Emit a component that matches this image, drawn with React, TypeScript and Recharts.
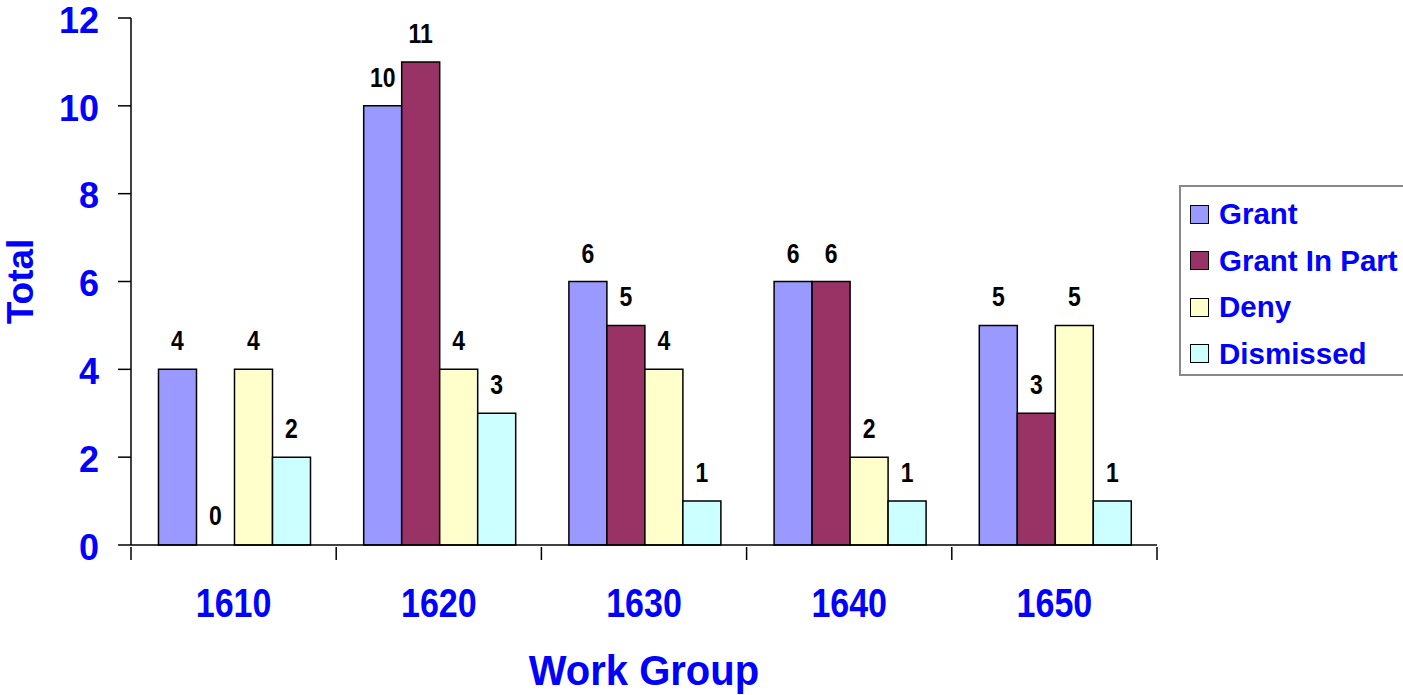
import React from 'react'
import { BarChart, Bar, XAxis, YAxis, LabelList, Rectangle } from 'recharts'

const groups = ['1610', '1620', '1630', '1640', '1650']
const grant = [4, 10, 6, 6, 5]
const grantInPart = [0, 11, 5, 6, 3]
const deny = [4, 4, 4, 2, 5]
const dismissed = [2, 3, 1, 1, 1]
const yTicks = [0, 2, 4, 6, 8, 10, 12]

const series = [
  { key: 'grant', name: 'Grant', color: '#9999FF' },
  { key: 'grantInPart', name: 'Grant In Part', color: '#993366' },
  { key: 'deny', name: 'Deny', color: '#FFFFCC' },
  { key: 'dismissed', name: 'Dismissed', color: '#CCFFFF' },
]

const data = groups.map((g, i) => ({
  group: g,
  grant: grant[i],
  grantInPart: grantInPart[i],
  deny: deny[i],
  dismissed: dismissed[i],
}))

const FONT = '"Liberation Sans", Arial, sans-serif'
const BLUE = '#0000FF'

// the original text is a bit taller than normal, so stretch it vertically
const Stretched = ({ x, y, sy = 1.17, rotate = 0, children, ...rest }: any) => (
  <text x={0} y={0} transform={`translate(${x}, ${y}) rotate(${rotate}) scale(1, ${sy})`}
    fontFamily={FONT} fontWeight="bold" {...rest}>
    {children}
  </text>
)

const GroupTick = (props: any) => {
  const { x, y, payload, width, visibleTicksCount, index } = props
  const bw = width / visibleTicksCount
  return (
    <g>
      <line x1={x - bw / 2} y1={y} x2={x - bw / 2} y2={y + 13} stroke="#000" strokeWidth={1.5} />
      {index === visibleTicksCount - 1 && (
        <line x1={x + bw / 2} y1={y} x2={x + bw / 2} y2={y + 13} stroke="#000" strokeWidth={1.5} />
      )}
      <Stretched x={x} y={y + 57} textAnchor="middle" dominantBaseline="central" fill={BLUE} fontSize={34}>
        {payload.value}
      </Stretched>
    </g>
  )
}

const ValueTick = (props: any) => {
  const { x, y, payload } = props
  return (
    <Stretched x={x} y={y + 2} textAnchor="end" dominantBaseline="central" fill={BLUE} fontSize={36} sy={1.05}>
      {payload.value}
    </Stretched>
  )
}

const YTitle = (props: any) => {
  const { viewBox } = props
  const cy = viewBox.y + viewBox.height / 2
  return (
    <Stretched x={20} y={cy} rotate={-90} sy={1} textAnchor="middle" dominantBaseline="central" fill={BLUE} fontSize={37}>
      Total
    </Stretched>
  )
}

const XTitle = (props: any) => {
  const { viewBox } = props
  return (
    <Stretched x={viewBox.x + viewBox.width / 2} y={viewBox.y + viewBox.height - 10} sy={1.05} textAnchor="middle" fill={BLUE} fontSize={40}>
      Work Group
    </Stretched>
  )
}

const BarValue = (props: any) => {
  const { x, y, width, value } = props
  return (
    <Stretched x={x + width / 2} y={y - 19} sy={1.2} textAnchor="middle" fill="#000" fontSize={23}>
      {value}
    </Stretched>
  )
}

// a zero value still gets its label, but no visible bar
const BarShape = (props: any) => {
  if (props.height < 1.5) return <g />
  return <Rectangle {...props} />
}

export default function App() {
  return (
    <div style={{ position: 'absolute', left: 0, top: 0, width: 1403, height: 695, overflow: 'hidden', background: '#fff', fontFamily: FONT }}>
      <BarChart width={1403} height={695} data={data}
        margin={{ top: 18, right: 246, left: 0, bottom: 0 }}
        barCategoryGap="13.4%" barGap={0}>
        <XAxis xAxisId="top" orientation="top" dataKey="group" tick={false} tickLine={false}
          axisLine={{ stroke: '#999', strokeWidth: 2 }} height={0} />
        <YAxis yAxisId="right" orientation="right" domain={[0, 12]} tick={false} tickLine={false}
          axisLine={{ stroke: '#999', strokeWidth: 2 }} width={0} />
        <XAxis dataKey="group" height={150} interval={0} tickLine={false} tickSize={0}
          axisLine={{ stroke: '#000', strokeWidth: 1.5 }} tick={<GroupTick />}
          label={<XTitle />} />
        <YAxis domain={[0, 12]} ticks={yTicks} width={131} tickSize={13} tickMargin={19}
          axisLine={{ stroke: '#000', strokeWidth: 1.5 }} tickLine={{ stroke: '#000', strokeWidth: 1.5 }}
          tick={<ValueTick />} label={<YTitle />} />
        {series.map((s) => (
          <Bar key={s.key} dataKey={s.key} name={s.name} fill={s.color} stroke="#000" strokeWidth={1.5}
            minPointSize={1} shape={<BarShape />} isAnimationActive={false}>
            <LabelList dataKey={s.key} content={<BarValue />} />
          </Bar>
        ))}
      </BarChart>
      <div style={{ position: 'absolute', left: 1179, top: 185, width: 250, height: 191, border: '2px solid #888', background: '#fff', boxSizing: 'border-box', padding: '4px 0 0 9px' }}>
        {series.map((s) => (
          <div key={s.key} style={{ display: 'flex', alignItems: 'center', height: 46.5 }}>
            <span style={{ width: 17, height: 17, background: s.color, border: '1.5px solid #000', marginRight: 10, flexShrink: 0 }} />
            <span style={{ color: BLUE, fontSize: 29.5, fontWeight: 'bold', fontFamily: FONT, whiteSpace: 'nowrap' }}>{s.name}</span>
          </div>
        ))}
      </div>
    </div>
  )
}
